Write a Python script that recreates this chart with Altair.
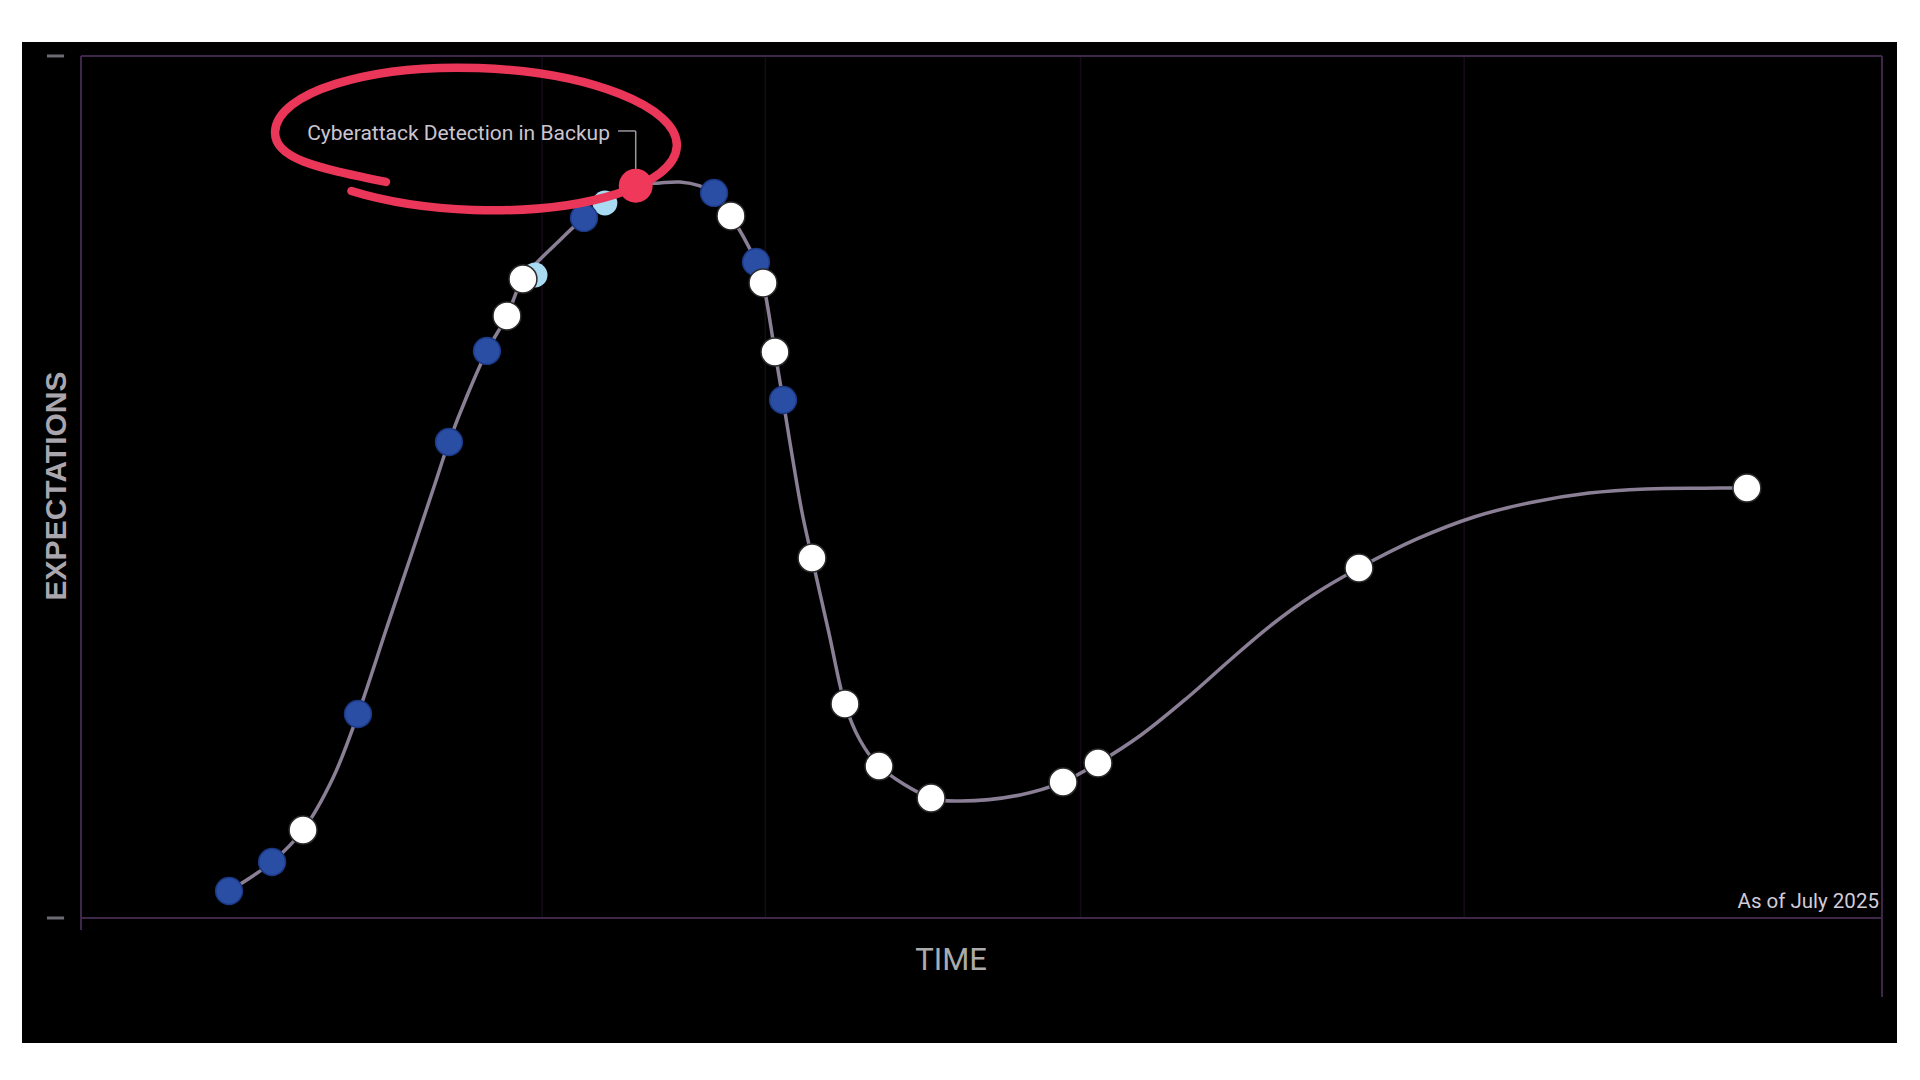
import altair as alt
import pandas as pd

# ---------------- data ----------------
# time: 0 = left frame, 100 = right frame; expectations: 0 = bottom frame, 100 = top frame
curve_t = [8.22, 10.61, 12.33, 13.99, 15.38, 16.99, 18.43, 19.54, 20.43, 21.43, 22.54, 23.65,
           24.54, 26.60, 27.93, 29.09, 30.80, 32.15, 33.26, 34.37, 35.15, 36.09, 37.48, 37.87,
           38.53, 38.98, 39.48, 40.03, 40.59, 41.53, 42.42, 43.25, 44.31, 47.20, 48.81, 52.14,
           54.53, 56.47, 58.86, 61.41, 63.80, 66.02, 68.41, 70.96, 74.18, 77.35, 80.51, 83.73,
           86.90, 90.12, 92.50]
curve_e = [3.13, 6.50, 10.21, 16.24, 23.67, 33.76, 42.69, 49.65, 55.22, 60.56, 65.78, 69.84,
           74.13, 78.65, 81.21, 82.95, 84.95, 85.27, 85.38, 84.92, 84.11, 81.44, 76.10, 73.67,
           65.66, 60.09, 53.71, 47.10, 41.76, 33.06, 24.83, 20.65, 17.63, 13.92, 13.57, 14.27,
           15.78, 17.98, 21.23, 25.52, 29.93, 33.87, 37.47, 40.60, 43.97, 46.52, 48.20, 49.30,
           49.78, 49.86, 49.88]

blue_t = [8.22, 10.61, 15.38, 20.43, 22.54, 27.93, 35.15, 37.48, 38.98]
blue_e = [3.13, 6.50, 23.67, 55.22, 65.78, 81.21, 84.11, 76.10, 60.09]

white_t = [12.33, 23.65, 24.54, 36.09, 37.87, 38.53, 40.59, 42.42, 44.31, 47.20, 54.53, 56.47, 70.96, 92.50]
white_e = [10.21, 69.84, 74.13, 81.44, 73.67, 65.66, 41.76, 24.83, 17.63, 13.92, 15.78, 17.98, 40.60, 49.88]

lightblue_t = [25.21, 29.09]
lightblue_e = [74.59, 82.95]

highlight_name = ["Cyberattack Detection in Backup"]
highlight_t = [30.80]
highlight_e = [84.95]

grid_t = [25.6, 38.0, 55.5, 76.8]

x_title = ["TIME"]
y_title = ["EXPECTATIONS"]
note = ["As of July 2025"]

# ---------------- scales ----------------
XS = alt.Scale(domain=[-3.276, 100.833], nice=False, zero=False)
YS = alt.Scale(domain=[-14.50, 101.62], nice=False, zero=False)


def X(f="t"):
    return alt.X(f"{f}:Q", scale=XS, axis=None)


def Y(f="e"):
    return alt.Y(f"{f}:Q", scale=YS, axis=None)


FRAME = "#3e2748"

grid = alt.Chart(pd.DataFrame({"t": grid_t, "e": [0] * 4, "e2": [100] * 4})).mark_rule(
    color="#150b17", strokeWidth=1.5
).encode(x=X(), y=Y(), y2="e2:Q")

hframe = alt.Chart(pd.DataFrame({"t": [0, 0], "t2": [100, 100], "e": [0, 100]})).mark_rule(
    color=FRAME, strokeWidth=2
).encode(x=X(), x2="t2:Q", y=Y())

vframe = alt.Chart(pd.DataFrame({"t": [0, 100], "e": [-1.4, -9.16], "e2": [100, 100]})).mark_rule(
    color=FRAME, strokeWidth=2
).encode(x=X(), y=Y(), y2="e2:Q")

ticks = alt.Chart(pd.DataFrame({"t": [-1.89, -1.89], "t2": [-0.94, -0.94], "e": [0, 100]})).mark_rule(
    color="#6c6a72", strokeWidth=3
).encode(x=X(), x2="t2:Q", y=Y())

curve = alt.Chart(pd.DataFrame({"t": curve_t, "e": curve_e})).mark_line(
    interpolate="catmull-rom", color="#8a7f95", strokeWidth=3.5
).encode(x=X(), y=Y())

lightblue = alt.Chart(pd.DataFrame({"t": lightblue_t, "e": lightblue_e})).mark_point(
    shape="circle", filled=True, size=620, color="#a9dcf2", opacity=1
).encode(x=X(), y=Y())

blue = alt.Chart(pd.DataFrame({"t": blue_t, "e": blue_e})).mark_point(
    shape="circle", filled=True, size=720, fill="#2a4ea4", stroke="#1c3986", strokeWidth=1.5, opacity=1
).encode(x=X(), y=Y())

white = alt.Chart(pd.DataFrame({"t": white_t, "e": white_e})).mark_point(
    shape="circle", filled=True, size=780, fill="#ffffff", stroke="#2b2b2b", strokeWidth=1.5, opacity=1
).encode(x=X(), y=Y())

# hand-drawn ring: starts lower-left, goes round and ends a little inside its start
RING = ("M -0.61 0.28 C -0.435 0.3275 -0.221 0.353 0 0.353 "
        "C 0.552 0.353 1 0.195 1 0 "
        "C 1 -0.195 0.552 -0.353 0 -0.353 "
        "C -0.552 -0.353 -1 -0.195 -1 0 "
        "C -1 0.135 -0.785 0.170 -0.44 0.229")
ring = alt.Chart(pd.DataFrame({"t": [21.93], "e": [90.37]})).mark_point(
    shape=RING, filled=False, size=161604, stroke="#ea3658", strokeWidth=8.5, opacity=1, angle=2,
    strokeCap="round"
).encode(x=X(), y=Y())

red = alt.Chart(pd.DataFrame({"t": highlight_t, "e": highlight_e})).mark_point(
    shape="circle", filled=True, size=1150, fill="#f0385b", opacity=1
).encode(x=X(), y=Y())

leader_h = alt.Chart(pd.DataFrame({"t": [29.82], "t2": [30.80], "e": [91.3]})).mark_rule(
    color="#9c95a3", strokeWidth=1.5
).encode(x=X(), x2="t2:Q", y=Y())
leader_v = alt.Chart(pd.DataFrame({"t": [30.80], "e": [86.9], "e2": [91.3]})).mark_rule(
    color="#9c95a3", strokeWidth=1.5
).encode(x=X(), y=Y(), y2="e2:Q")

label = alt.Chart(pd.DataFrame({"t": [29.37], "e": [90.95], "txt": highlight_name})).mark_text(
    align="right", baseline="middle", font="Roboto", fontSize=21, color="#cbc5d0"
).encode(x=X(), y=Y(), text="txt:N")

note_txt = alt.Chart(pd.DataFrame({"t": [99.83], "e": [1.86], "txt": note})).mark_text(
    align="right", baseline="middle", font="Roboto", fontSize=20.5, color="#d2cbd8"
).encode(x=X(), y=Y(), text="txt:N")

xt = alt.Chart(pd.DataFrame({"t": [48.31], "e": [-4.99], "txt": x_title})).mark_text(
    align="center", baseline="middle", font="Roboto", fontSize=31, color="#ababab"
).encode(x=X(), y=Y(), text="txt:N")

yt = alt.Chart(pd.DataFrame({"t": [-1.33], "e": [50.12], "txt": y_title})).mark_text(
    align="center", baseline="middle", font="Liberation Sans", fontSize=30, fontWeight="bold",
    angle=270, color="#aaa6ae"
).encode(x=X(), y=Y(), text="txt:N")

chart = alt.layer(
    grid, hframe, vframe, ticks, curve, lightblue, blue, white, ring, red,
    leader_h, leader_v, label, note_txt, xt, yt
).properties(
    width=1875, height=1001,
    padding={"left": 14, "top": 34, "right": 0, "bottom": 0},
    background="#ffffff",
).configure_view(fill="#000000", stroke="#000000", strokeWidth=0)

chart.save("out.html", embed_options={"renderer": "svg", "actions": False})
